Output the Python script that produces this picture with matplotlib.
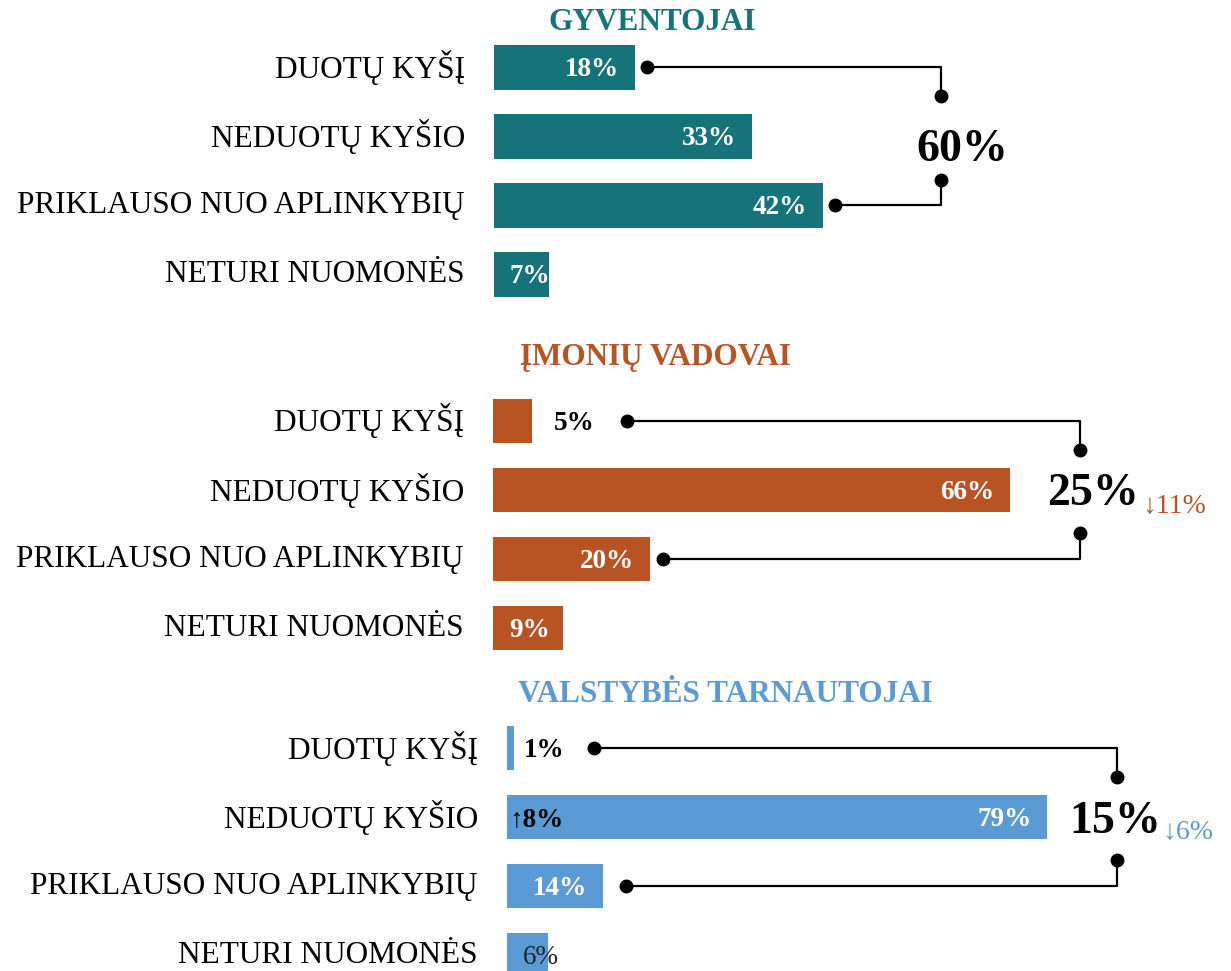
import matplotlib.pyplot as plt

plt.rcParams['font.family'] = ['Liberation Serif', 'DejaVu Serif']

# data
categories = ['DUOTŲ KYŠĮ', 'NEDUOTŲ KYŠIO', 'PRIKLAUSO NUO APLINKYBIŲ', 'NETURI NUOMONĖS']
groups = ['GYVENTOJAI', 'ĮMONIŲ VADOVAI', 'VALSTYBĖS TARNAUTOJAI']
gyventojai = [18, 33, 42, 7]
vadovai = [5, 66, 20, 9]
tarnautojai = [1, 79, 14, 6]
totals = ['60%', '25%', '15%']
changes = ['', '↓11%', '↓6%']
note = '↑8%'

series = [gyventojai, vadovai, tarnautojai]
colors = ['#16737A', '#B85424', '#5B9BD5']

# layout (pixels of a 1231x971 canvas)
W, H = 1231, 971
row = 69
x0_px = [494, 493, 507]
px_per_pct = [7.83, 7.83, 6.84]
c0_px = [67.5, 421, 748]
title_px = [(652, 22), (655, 358), (725, 694)]
modes = [['in', 'in', 'in', 'start'],
         ['out', 'in', 'in', 'start'],
         ['out', 'in', 'in', 'start_dark']]
out_gap = [0, 22, 10]
bracket_x = [57.1, 75.0, 89.2]
dot_x = [(19.5, 43.6), (17.1, 21.7), (12.7, 17.4)]
total_px = [(962, 150), (1093, 494), (1115, 822)]
change_px = [None, (1142, 507), (1162, 832)]

fig = plt.figure(figsize=(W / 100, H / 100), dpi=100)

for k in range(3):
    x0, sc, c0 = x0_px[k], px_per_pct[k], c0_px[k]
    ax = fig.add_axes([x0 / W, 1 - (c0 + 4 * row) / H, (W - x0) / W, 5 * row / H])
    ax.set_xlim(0, (W - x0) / sc)
    ax.set_ylim(4, -1)
    vals = series[k]
    ax.barh(range(4), vals, height=0.64, color=colors[k])
    ax.set_yticks(range(4))
    ax.set_yticklabels(categories, fontsize=22.5, va='center')
    ax.tick_params(axis='y', length=0, pad=21)
    ax.set_xticks([])
    for s in ax.spines.values():
        s.set_visible(False)
    ax.patch.set_alpha(0)

    off = 16 / sc
    for i, v in enumerate(vals):
        m = modes[k][i]
        if m == 'in':
            ax.text(v - off, i + 0.03, f'{v}%', ha='right', va='center', color='white',
                    fontsize=19.5, fontweight='bold')
        elif m == 'start':
            ax.text(16 / sc, i + 0.03, f'{v}%', ha='left', va='center', color='white',
                    fontsize=19.5, fontweight='bold')
        elif m == 'start_dark':
            ax.text(16 / sc, i + 0.03, f'{v}%', ha='left', va='center', color='#222222',
                    fontsize=19.5)
        else:
            ax.text(v + out_gap[k] / sc, i + 0.03, f'{v}%', ha='left', va='center',
                    color='black', fontsize=19.5, fontweight='bold')

    if k == 2:
        ax.text(2 / sc, 1 + 0.03, note, ha='left', va='center', color='black',
                fontsize=19.5, fontweight='bold')

    # bracket connectors
    bx = bracket_x[k]
    dt, db = dot_x[k]
    ax.plot([dt, bx, bx], [0, 0, 0.42], color='black', lw=1.6)
    ax.plot([db, bx, bx], [2, 2, 1.63], color='black', lw=1.6)
    ax.plot([dt, bx, db, bx], [0, 0.42, 2, 1.63], 'o', color='black', ms=9)

    tx, ty = total_px[k]
    ax.text((tx - x0) / sc, (ty - c0) / row, totals[k], ha='center', va='center',
            fontsize=33, fontweight='bold', color='black')
    if change_px[k]:
        cx, cy = change_px[k]
        ax.text((cx - x0) / sc, (cy - c0) / row, changes[k], ha='left', va='center',
                fontsize=20, color=colors[k])

    px, py = title_px[k]
    fig.text(px / W, 1 - py / H, groups[k], ha='center', va='center',
             fontsize=22.5, fontweight='bold', color=colors[k])

fig.savefig('out.png', dpi=100)
